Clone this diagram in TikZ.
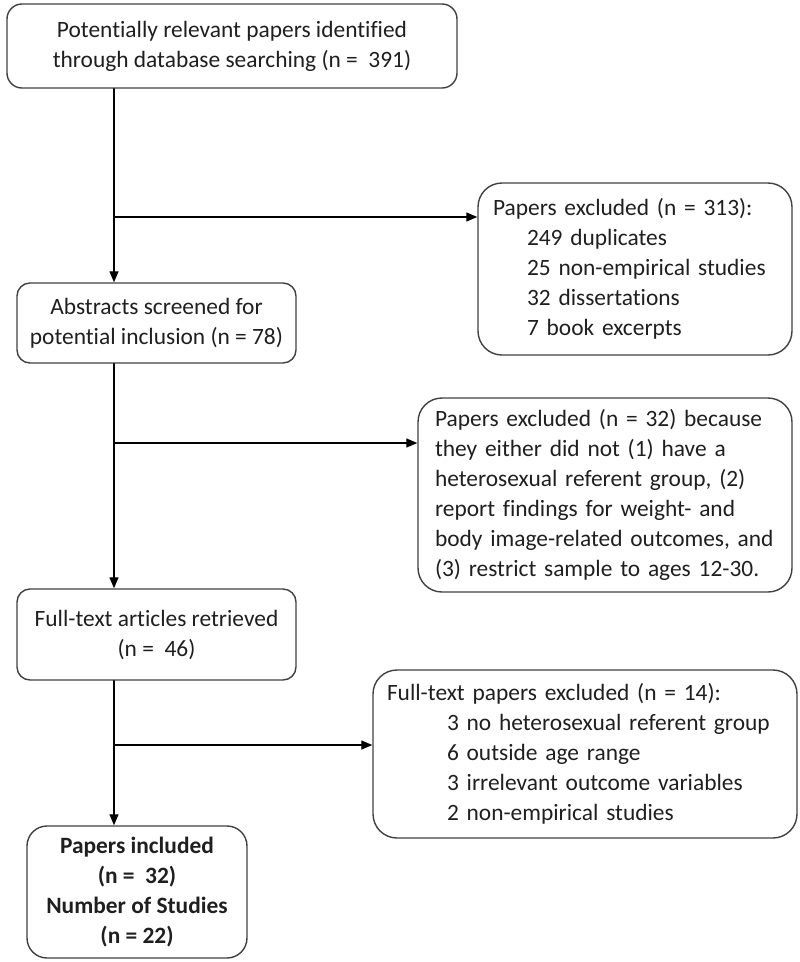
\documentclass[tikz,border=0pt]{standalone}
\usepackage{fontspec}
\setmainfont{Carlito}[Ligatures=NoCommon]
\usetikzlibrary{arrows.meta}

\definecolor{bordergray}{rgb}{0.25,0.25,0.25}
\definecolor{textgray}{rgb}{0.12,0.12,0.12}

\tikzset{
  flowbox/.style={draw=bordergray,line width=1.4pt,rounded corners=15pt,align=center,inner sep=0pt,text=textgray},
  exclbox/.style={draw=bordergray,line width=1.4pt,rounded corners=24pt,align=left,inner ysep=0pt,text=textgray},
  flowline/.style={line width=1.3pt,color=black}
}

\begin{document}
\begin{tikzpicture}[x=1pt,y=-1pt,line cap=round,line join=round,>={Triangle[length=11pt,width=9pt]},font=\fontsize{23.4}{30}\selectfont]

\useasboundingbox (0,0) rectangle (800,962);

% left column
\node[flowbox,minimum width=450pt,minimum height=84pt] (ident) at (232,46) {Potentially relevant papers identified\\through database searching (n =\ \ 391)};
\node[flowbox,rounded corners=13pt,minimum width=279pt,minimum height=80pt] (screen) at (156.5,323) {Abstracts screened for\\potential inclusion (n = 78)};
\node[flowbox,rounded corners=13pt,minimum width=279pt,minimum height=91pt] (full) at (156.5,634.5) {Full-text articles retrieved\\(n =\ \ 46)};
\node[flowbox,rounded corners=20pt,minimum width=220pt,minimum height=132pt,font=\fontsize{23.4}{30.3}\selectfont\bfseries] (incl) at (137,892) {Papers included\\(n =\ \ 32)\\Number of Studies\\(n = 22)};

% right column
\node[exclbox,inner xsep=15pt,text width=284pt,minimum height=172pt] (excl1) at (635,269) {Papers excluded (n = 313):\\\hspace*{34pt}249 duplicates\\\hspace*{34pt}25 non-empirical studies\\\hspace*{34pt}32 dissertations\\\hspace*{34pt}7 book excerpts};
\node[exclbox,inner xsep=17pt,text width=340pt,minimum height=194pt] (excl2) at (605,495) {Papers excluded (n = 32) because\\they either did not (1) have a\\heterosexual referent group, (2)\\report findings for weight- and\\body image-related outcomes, and\\(3) restrict sample to ages 12-30.};
\node[exclbox,inner xsep=14pt,text width=396pt,minimum height=168pt] (excl3) at (585,754) {Full-text papers excluded (n = 14):\\\hspace*{60pt}3 no heterosexual referent group\\\hspace*{60pt}6 outside age range\\\hspace*{60pt}3 irrelevant outcome variables\\\hspace*{60pt}2 non-empirical studies};

% trunk and branches
\coordinate (trunk) at (114,0);
\coordinate (br1) at (114,217);
\coordinate (br2) at (114,443);
\coordinate (br3) at (114,745);

\draw[flowline,->] (ident.south -| trunk) -- (screen.north -| trunk);
\draw[flowline,->] (screen.south -| trunk) -- (full.north -| trunk);
\draw[flowline,->] (full.south -| trunk) -- (incl.north -| trunk);
\draw[flowline,->] (br1) -- (excl1.west |- br1);
\draw[flowline,->] (br2) -- (excl2.west |- br2);
\draw[flowline,->] (br3) -- (excl3.west |- br3);

\end{tikzpicture}
\end{document}
